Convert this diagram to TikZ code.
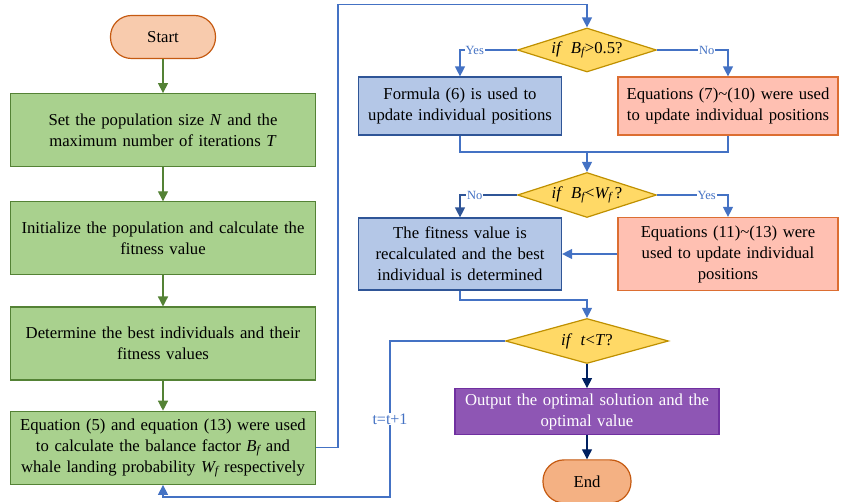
\documentclass[tikz,border=0pt]{standalone}
\usepackage{fontspec}
\setmainfont{Liberation Serif}
\usetikzlibrary{positioning,arrows.meta,shapes.geometric}
\definecolor{termfill}{RGB}{248,203,173}
\definecolor{endfill}{RGB}{244,177,131}
\definecolor{termline}{RGB}{197,90,17}
\definecolor{stepfill}{RGB}{169,209,142}
\definecolor{stepline}{RGB}{84,130,53}
\definecolor{askfill}{RGB}{255,217,102}
\definecolor{askline}{RGB}{191,144,0}
\definecolor{bluefill}{RGB}{180,199,231}
\definecolor{blueline}{RGB}{47,85,151}
\definecolor{redfill}{RGB}{255,192,178}
\definecolor{redline}{RGB}{220,110,50}
\definecolor{purplefill}{RGB}{142,86,180}
\definecolor{purpleline}{RGB}{112,48,160}
\definecolor{flowblue}{RGB}{68,114,196}
\definecolor{navy}{RGB}{0,32,96}

\begin{document}
\begin{tikzpicture}[
  x=1pt, y=-1pt,
  font=\fontsize{16.7}{21}\selectfont,
  term/.style={rectangle, rounded corners=21pt, draw=termline, line width=1.2pt,
               minimum width=105pt, minimum height=43pt},
  greenbox/.style={rectangle, draw=stepline, line width=1.2pt, fill=stepfill,
                   text width=300pt, align=center, minimum width=305pt,
                   minimum height=73pt, inner sep=2pt},
  ask/.style={diamond, draw=askline, line width=1.2pt, fill=askfill, aspect=3,
              inner sep=0pt, minimum height=44pt},
  bluebox/.style={rectangle, draw=blueline, line width=1.2pt, fill=bluefill,
                  text width=200pt, align=center, minimum width=203pt,
                  inner sep=1pt},
  redbox/.style={rectangle, draw=redline, line width=1.2pt, fill=redfill,
                 text width=217pt, align=center, minimum width=220pt,
                 inner sep=1pt},
  outbox/.style={rectangle, draw=purpleline, line width=1.2pt, fill=purplefill,
                 text=white, text width=260pt, align=center,
                 minimum width=264pt, minimum height=46pt, inner sep=2pt},
  garr/.style={-{Triangle[width=10pt,length=10pt]}, line width=1.3pt, draw=stepline},
  barr/.style={-{Triangle[width=10pt,length=10pt]}, line width=1.3pt, draw=flowblue},
  narr/.style={-{Triangle[width=10pt,length=10pt]}, line width=1.3pt, draw=navy},
  bline/.style={line width=1.3pt, draw=flowblue},
  lbl/.style={fill=white, text=flowblue, inner sep=1pt, font=\fontsize{12.5}{14}\selectfont}
]
\useasboundingbox (0,0) rectangle (844,502);
% left column
\node[term, fill=termfill] (start) at (163,37) {Start};
\node[greenbox, below=34pt of start] (g1) {Set the population size \textit{N} and the\\maximum number of iterations \textit{T}};
\node[greenbox, below=34pt of g1] (g2) {Initialize the population and calculate the\\fitness value};
\node[greenbox, below=31pt of g2] (g3) {Determine the best individuals and their\\fitness values};
\node[greenbox, below=30pt of g3] (g4) {Equation (5) and equation (13) were used\\to calculate the balance factor \textit{B\textsubscript{f}} and\\whale landing probability \textit{W\textsubscript{f}} respectively};
% right column
\node[ask, minimum width=139pt] (d1) at (587,50) {\textit{if}\ \ \textit{B\textsubscript{f}}>0.5?};
\node[bluebox, minimum height=58pt] (b1) at (460,106) {Formula (6) is used to\\update individual positions};
\node[redbox, minimum height=58pt] (r1) at (728,106) {Equations (7)\textasciitilde(10) were used\\to update individual positions};
\node[ask, minimum width=139pt, minimum height=45pt] (d2) at (587,195) {\textit{if}\ \ \textit{B\textsubscript{f}}<\textit{W\textsubscript{f}}\,?};
\node[bluebox, minimum height=72pt] (b2) at (460,254) {The fitness value is\\recalculated and the best\\individual is determined};
\node[redbox, minimum height=73pt] (r2) at (728,254) {Equations (11)\textasciitilde(13) were\\used to update individual\\positions};
\node[ask, minimum width=163pt, minimum height=45pt] (d3) at (587,341) {\textit{if}\ \ \textit{t}<\textit{T}?};
\node[outbox, below=24pt of d3] (out) {Output the optimal solution and the\\optimal value};
\node[term, fill=endfill, minimum width=88pt, below=24pt of out] (end) {End};
\coordinate (j1) at (587,152);
\coordinate (j2) at (587,300);
\coordinate (c1) at (390,497);
% connectors
\draw[garr] (start) -- (g1);
\draw[garr] (g1) -- (g2);
\draw[garr] (g2) -- (g3);
\draw[garr] (g3) -- (g4);
\draw[barr] (g4.east) -- ++(22,0) |- ([yshift=23pt]d1.north) -- (d1.north);
\draw[barr] (d1.west) -| node[lbl, pos=0.37] {Yes} (b1.north);
\draw[barr] (d1.east) -| node[lbl, pos=0.35] {No} (r1.north);
\draw[bline] (b1.south) |- (j1) -| (r1.south);
\draw[barr] (j1) -- (d2.north);
\draw[barr, draw=blueline] (d2.west) -| node[lbl, pos=0.37] {No} (b2.north);
\draw[barr] (d2.east) -| node[lbl, pos=0.35] {Yes} (r2.north);
\draw[barr] (r2.west) -- (b2.east);
\draw[barr] (b2.south) |- (j2) -- (d3.north);
\draw[barr] (d3.west) -| node[lbl, pos=0.75, font=\fontsize{16}{18}\selectfont] {t=t+1} (c1) -| (g4.south);
\draw[narr] (d3.south) -- (out.north);
\draw[narr] (out.south) -- (end.north);
\end{tikzpicture}
\end{document}
